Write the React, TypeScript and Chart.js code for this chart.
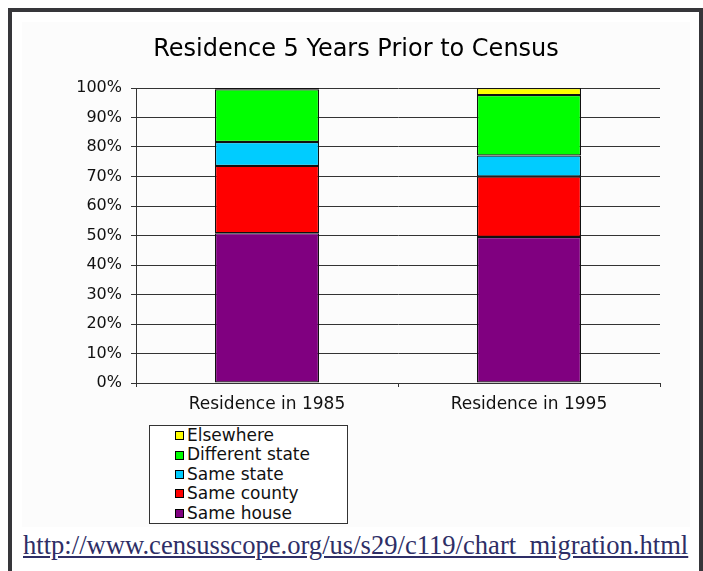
import React, { useEffect, useRef } from "react";
import { Chart, registerables } from "chart.js";

Chart.register(...registerables);

const categories = ["Residence in 1985", "Residence in 1995"];
const seriesNames = ["Same house", "Same county", "Same state", "Different state", "Elsewhere"];
const sameHouse = [50.8, 49.5];
const sameCounty = [22.8, 20.5];
const sameState = [8.1, 7.1];
const differentState = [17.9, 20.5];
const elsewhere = [0.4, 2.4];
const seriesColors = ["#800080", "#ff0000", "#00ccff", "#00ff00", "#ffff00"];
const yTicks = [0, 10, 20, 30, 40, 50, 60, 70, 80, 90, 100];
const titleText = "Residence 5 Years Prior to Census";
const urlText = "http://www.censusscope.org/us/s29/c119/chart_migration.html";

const seriesValues = [sameHouse, sameCounty, sameState, differentState, elsewhere];

export default function App() {
  const canvasRef = useRef<HTMLCanvasElement | null>(null);

  useEffect(() => {
    const canvas = canvasRef.current;
    if (!canvas) return;
    const lineColor = "#333333";
    const chart = new Chart(canvas, {
      type: "bar",
      data: {
        labels: categories,
        datasets: seriesNames.map((name, i) => ({
          label: name,
          data: seriesValues[i],
          backgroundColor: seriesColors[i],
          borderColor: "#111111",
          borderWidth: 1.2,
          borderSkipped: false,
          inflateAmount: 0,
          barPercentage: 104 / 262,
          categoryPercentage: 1,
        })),
      },
      options: {
        responsive: true,
        maintainAspectRatio: false,
        animation: false,
        layout: { padding: { left: 30, right: 30, top: 0, bottom: 0 } },
        plugins: {
          legend: { display: false },
          tooltip: { enabled: false },
          title: {
            display: true,
            text: titleText,
            color: "#000000",
            font: { family: "DejaVu Sans", size: 24, weight: "normal" },
            padding: { top: 13.6, bottom: 23.6 },
          },
        },
        scales: {
          x: {
            stacked: true,
            grid: {
              display: true,
              drawOnChartArea: false,
              offset: true,
              tickLength: 4,
              color: lineColor,
            },
            border: { display: true, color: lineColor, width: 1 },
            ticks: {
              color: "#111111",
              font: { family: "DejaVu Sans", size: 17 },
              padding: 7,
              maxRotation: 0,
            },
            afterFit: (scale: any) => {
              scale.height = 144;
            },
          },
          y: {
            stacked: true,
            min: 0,
            max: 100,
            afterBuildTicks: (scale: any) => {
              scale.ticks = yTicks.map((v) => ({ value: v }));
            },
            grid: {
              color: lineColor,
              tickLength: 5,
            },
            border: { display: true, color: lineColor, width: 1 },
            ticks: {
              color: "#111111",
              font: { family: "DejaVu Sans", size: 16 },
              padding: 9,
              callback: (v: any) => `${v}%`,
            },
            afterFit: (scale: any) => {
              scale.width = 84;
            },
          },
        },
      },
    });
    return () => chart.destroy();
  }, []);

  const legendOrder = seriesNames.map((_, i) => i).reverse();

  return (
    <div
      style={{
        position: "fixed",
        left: 8,
        top: 8,
        width: 695,
        height: 563,
        boxSizing: "border-box",
        borderTop: "4px solid #36363a",
        borderLeft: "4px solid #36363a",
        borderRight: "4px solid #36363a",
        background: "#ffffff",
      }}
    >
      <div
        style={{
          position: "absolute",
          left: 10,
          top: 10,
          width: 668,
          height: 505,
          background: "#fcfcfc",
        }}
      >
        <canvas ref={canvasRef} />
      </div>
      <div
        style={{
          position: "absolute",
          left: 137,
          top: 413,
          width: 199,
          height: 99,
          boxSizing: "border-box",
          border: "1px solid #333",
          background: "#ffffff",
          fontFamily: "DejaVu Sans",
          fontSize: 17,
          color: "#111111",
        }}
      >
        {legendOrder.map((i) => (
          <div
            key={seriesNames[i]}
            style={{ height: 19.4, lineHeight: "19.4px", display: "flex", alignItems: "center", paddingLeft: 25 }}
          >
            <span
              style={{
                display: "inline-block",
                width: 9,
                height: 9,
                boxSizing: "border-box",
                border: "1px solid #000",
                background: seriesColors[i],
                marginRight: 3,
              }}
            />
            <span>{seriesNames[i]}</span>
          </div>
        ))}
      </div>
      <div
        style={{
          position: "absolute",
          left: 11,
          top: 518,
          fontFamily: "Liberation Serif",
          fontSize: 26.6,
          lineHeight: "30px",
          color: "#2e2e66",
          textDecoration: "underline",
          whiteSpace: "nowrap",
        }}
      >
        {urlText}
      </div>
    </div>
  );
}
